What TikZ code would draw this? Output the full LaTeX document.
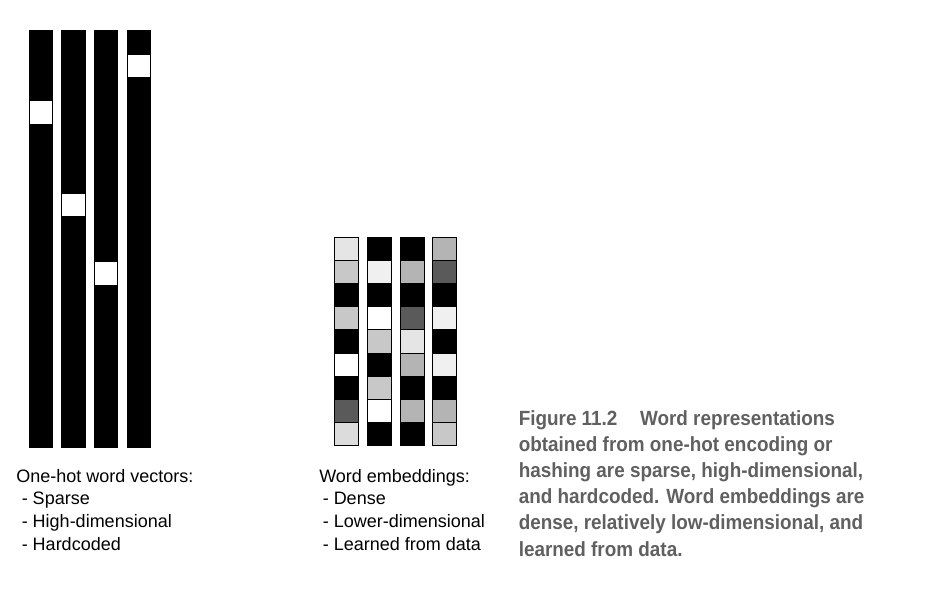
\documentclass[tikz,border=0pt]{standalone}
\usepackage{fontspec}
\setmainfont{Liberation Sans}
\newfontfamily\capfont[FakeStretch=0.92]{Liberation Sans}
\definecolor{capgray}{HTML}{606060}
\definecolor{cE5}{HTML}{E5E5E5}
\definecolor{cC8}{HTML}{C8C8C8}
\definecolor{cB4}{HTML}{B4B4B4}
\definecolor{c5A}{HTML}{5A5A5A}
\definecolor{cF0}{HTML}{F0F0F0}
\definecolor{cDC}{HTML}{DCDCDC}
\tikzset{
  lab/.style={anchor=base west, inner sep=0pt, font=\fontsize{13.5}{16}\selectfont},
  captext/.style={anchor=base west, inner sep=0pt, font=\capfont\bfseries\fontsize{15.4}{19}\selectfont, text=capgray},
  cell/.style={draw=black, line width=0.75pt}
}
\begin{document}
\begin{tikzpicture}[x=0.75pt,y=-0.75pt]
\useasboundingbox (0,0) rectangle (927,597);
\fill[white] (0,0) rectangle (927,597);
% one-hot bars
\foreach \xa/\xb/\ya/\yb in {29/53/101/124, 61/86/194/216, 94/118/262/285, 127/151/55/77}{
  \fill[black] (\xa,30) rectangle (\xb,448);
  \fill[white] (\xa+1,\ya) rectangle (\xb-1,\yb);
}
% embeddings
\foreach \x/\cols in {334/{cE5,cC8,black,cC8,black,white,black,c5A,cDC},
                      367/{black,cF0,black,white,cC8,black,cC8,white,black},
                      400/{black,cB4,black,c5A,cE5,cB4,black,cB4,black},
                      432/{cB4,c5A,black,cF0,black,cF0,black,cB4,cC8}}{
  \foreach \c [count=\i from 0] in \cols {
    \filldraw[cell, fill=\c] (\x,237.3+23.15*\i) rectangle (\x+24,237.3+23.15*\i+23.15);
  }
}
% labels
\node[lab] (oh1) at (16,482) {One-hot word vectors:};
\node[lab] (oh2) at (21.5,504.5) {- Sparse};
\node[lab] (oh3) at (21.5,527.5) {- High-dimensional};
\node[lab] (oh4) at (21.5,550) {- Hardcoded};
\node[lab] (we1) at (319,482) {Word embeddings:};
\node[lab] (we2) at (322.5,504.5) {- Dense};
\node[lab] (we3) at (322.5,527.5) {- Lower-dimensional};
\node[lab] (we4) at (322.5,550) {- Learned from data};
% caption
\node[captext] (c1) at (518.5,425) {Figure 11.2\hspace{1.1em}Word representations};
\node[captext] (c2) at (518.5,451.2) {obtained from one-hot encoding or};
\node[captext] (c3) at (518.5,477.4) {hashing are sparse, high-dimensional,};
\node[captext] (c4) at (518.5,503.6) {and hardcoded. Word embeddings are};
\node[captext] (c5) at (518.5,529.8) {dense, relatively low-dimensional, and};
\node[captext] (c6) at (518.5,556) {learned from data.};
\end{tikzpicture}
\end{document}
